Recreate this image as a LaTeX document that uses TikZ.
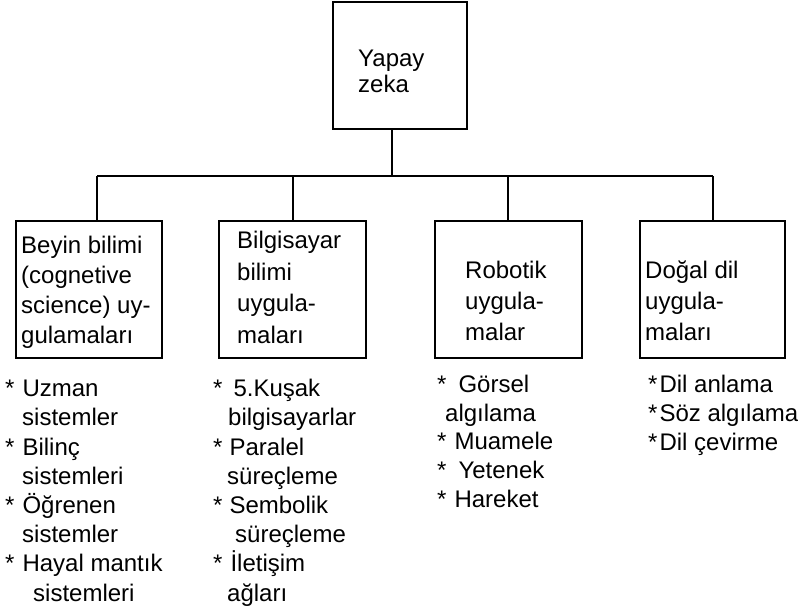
\documentclass[tikz,border=0pt]{standalone}
\usepackage{fontspec}
\setmainfont{Liberation Sans}
\newcommand\dfont{\fontsize{24pt}{30pt}\selectfont}
\newcommand\lfont{\fontsize{24pt}{29.2pt}\selectfont}
\begin{document}
\begin{tikzpicture}[x=1pt,y=-1pt,
  box/.style={draw, line width=2.2pt, inner sep=0pt},
  wire/.style={line width=2.2pt},
  lbl/.style={anchor=base west, inner sep=0pt, align=left, font=\dfont},
  lst/.style={anchor=base west, inner sep=0pt, align=left, font=\lfont}]
\useasboundingbox (0,0) rectangle (798,611);
% boxes
\node[box, minimum width=134pt, minimum height=127pt] (top) at (400,65.5) {};
\node[box, minimum width=146pt, minimum height=137pt] (b1) at (89,289.5) {};
\node[box, minimum width=147pt, minimum height=137pt] (b2) at (292.5,289.5) {};
\node[box, minimum width=147pt, minimum height=137pt] (b3) at (508.5,289.5) {};
\node[box, minimum width=145pt, minimum height=137pt] (b4) at (712.5,289.5) {};
% box labels (anchor = baseline of last line)
\node[lbl, font=\fontsize{24pt}{26pt}\selectfont] (ttop) at (358,92) {Yapay\\zeka};
\node[lbl] (t1) at (21,343) {Beyin bilimi\\(cognetive\\science) uy-\\gulamaları};
\node[lbl, font=\fontsize{24pt}{31.5pt}\selectfont] (t2) at (237,343) {Bilgisayar\\bilimi\\uygula-\\maları};
\node[lbl, font=\fontsize{24pt}{31pt}\selectfont] (t3) at (465,340) {Robotik\\uygula-\\malar};
\node[lbl, font=\fontsize{24pt}{31pt}\selectfont] (t4) at (645,340) {Doğal dil\\uygula-\\maları};
% connectors
\coordinate (j) at (392,176);
\coordinate (h1) at (97,176);
\coordinate (h2) at (293,176);
\coordinate (h3) at (508,176);
\coordinate (h4) at (713,176);
\draw[wire] (top.south -| j) -- (j);
\draw[wire] (h1) -- (h4);
\draw[wire] (h1) -- (h1 |- b1.north);
\draw[wire] (h2) -- (h2 |- b2.north);
\draw[wire] (h3) -- (h3 |- b3.north);
\draw[wire] (h4) -- (h4 |- b4.north);
% lists (anchor = baseline of last line)
\node[lst] (l1) at (5,601) {*\hspace*{8pt}Uzman\\\hspace*{17pt}sistemler\\*\hspace*{8pt}Bilinç\\\hspace*{17pt}sistemleri\\*\hspace*{8pt}Öğrenen\\\hspace*{17pt}sistemler\\*\hspace*{8pt}Hayal mantık\\\hspace*{28pt}sistemleri};
\node[lst] (l2) at (213,601) {*\hspace*{11pt}5.Kuşak\\\hspace*{15pt}bilgisayarlar\\*\hspace*{7pt}Paralel\\\hspace*{14pt}süreçleme\\*\hspace*{7pt}Sembolik\\\hspace*{22pt}süreçleme\\*\hspace*{8pt}İletişim\\\hspace*{14pt}ağları};
\node[lst, font=\fontsize{24pt}{28.6pt}\selectfont] (l3) at (437,507) {*\hspace*{12pt}Görsel\\\hspace*{8pt}algılama\\*\hspace*{8pt}Muamele\\*\hspace*{12pt}Yetenek\\*\hspace*{8pt}Hareket};
\node[lst, font=\fontsize{24pt}{28.6pt}\selectfont] (l4) at (648,450) {*\hspace*{2pt}Dil anlama\\*\hspace*{2pt}Söz algılama\\*\hspace*{2pt}Dil çevirme};
\end{tikzpicture}
\end{document}
